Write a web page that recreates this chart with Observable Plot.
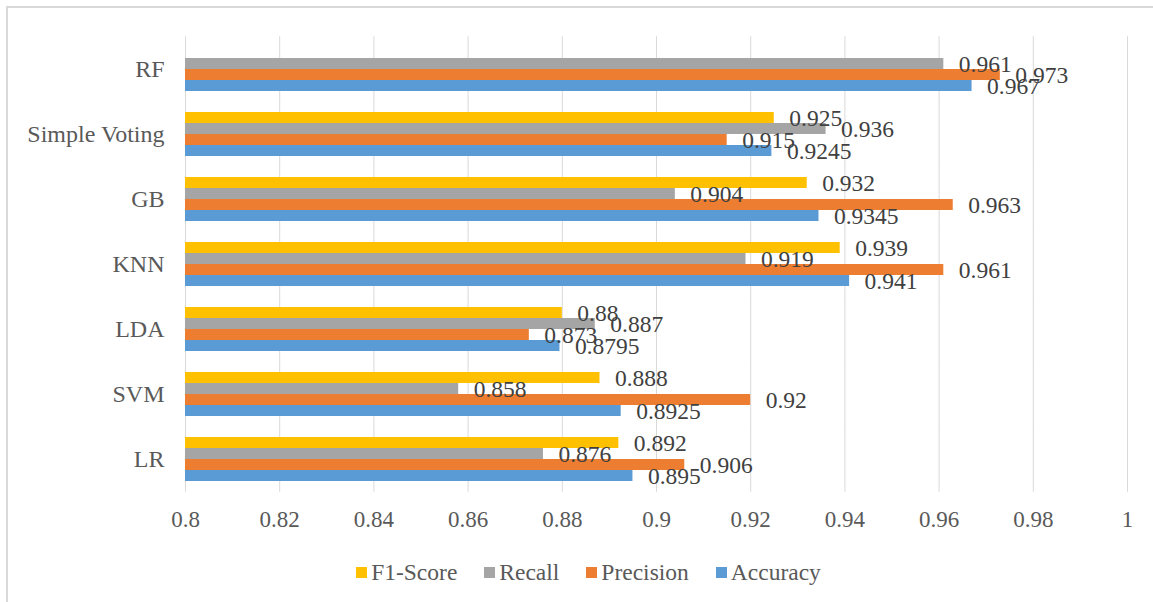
<!DOCTYPE html>
<html><head><meta charset="utf-8">
<script src="https://cdn.jsdelivr.net/npm/d3@7"></script>
<script src="https://cdn.jsdelivr.net/npm/@observablehq/plot@0.6"></script>
<style>
body{margin:0;background:#fff;font-family:"Liberation Serif","Times New Roman",serif;}
#frame{position:absolute;left:6px;top:6px;width:1147px;height:596px;border-top:2px solid #d9d9d9;border-left:2px solid #d9d9d9;box-sizing:border-box;}
#chart{position:absolute;left:0;top:0;}
#legend{position:absolute;left:0;top:559px;width:1153px;box-sizing:border-box;padding-left:24px;display:flex;justify-content:center;color:#595959;font-size:23.5px;line-height:26px;}
.item{display:flex;align-items:center;margin:0 13.5px;}
.sw{width:11px;height:11px;margin-right:4px;}
</style>
</head><body>
<div id="frame"></div>
<div id="chart"></div>
<div id="legend"></div>
<script>
const models = ["RF","Simple Voting","GB","KNN","LDA","SVM","LR"];
const series = ["F1-Score","Recall","Precision","Accuracy"];
const colors = ["#FFC000","#A5A5A5","#ED7D31","#5B9BD5"];
const f1Score   = [null, 0.925, 0.932, 0.939, 0.88, 0.888, 0.892];
const recall    = [0.961, 0.936, 0.904, 0.919, 0.887, 0.858, 0.876];
const precision = [0.973, 0.915, 0.963, 0.961, 0.873, 0.92, 0.906];
const accuracy  = [0.967, 0.9245, 0.9345, 0.941, 0.8795, 0.8925, 0.895];
const xTicks = [0.8,0.82,0.84,0.86,0.88,0.9,0.92,0.94,0.96,0.98,1];
const xTickLabels = ["0.8","0.82","0.84","0.86","0.88","0.9","0.92","0.94","0.96","0.98","1"];
const xMin = 0.8, xMax = 1;

const valuesBySeries = [f1Score, recall, precision, accuracy];
const rows = [];
models.forEach((m, i) => series.forEach((s, j) => {
  const v = valuesBySeries[j][i];
  if (v != null) rows.push({model: m, series: s, value: v});
}));
const fmt = d => xTickLabels[xTicks.findIndex(t => Math.abs(t - d) < 1e-9)];

const chart = Plot.plot({
  width: 1153, height: 545,
  marginLeft: 185, marginRight: 26, marginTop: 35, marginBottom: 52,
  style: {fontFamily: "'Liberation Serif','Times New Roman',serif", color: "#595959", background: "transparent"},
  x: {domain: [xMin, xMax]},
  fy: {domain: models, paddingInner: 0.328, paddingOuter: 0.164},
  y: {domain: series, padding: 0, axis: null},
  color: {domain: series, range: colors},
  marks: [
    Plot.ruleX(xTicks, {stroke: "#d9d9d9", strokeWidth: 1, insetTop: -10.8, insetBottom: -10.8}),
    Plot.barX(rows, {fy: "model", y: "series", x1: xMin, x2: "value", fill: "series"}),
    Plot.text(rows, {fy: "model", y: "series", x: "value", text: d => String(d.value),
      textAnchor: "start", dx: 15, fontSize: 23.5, fill: "#404040"}),
    Plot.axisX({ticks: xTicks, tickFormat: fmt, tickSize: 0, tickPadding: 29, fontSize: 23, label: null, fill: "#595959"}),
    Plot.axisFy({anchor: "left", tickSize: 0, tickPadding: 21, fontSize: 24, label: null, fill: "#595959"})
  ]
});
document.getElementById("chart").appendChild(chart);

const lg = document.getElementById("legend");
series.forEach((s, j) => {
  const it = document.createElement("div"); it.className = "item";
  const sw = document.createElement("div"); sw.className = "sw"; sw.style.background = colors[j];
  const tx = document.createElement("span"); tx.textContent = s;
  it.appendChild(sw); it.appendChild(tx); lg.appendChild(it);
});
</script>
</body></html>
